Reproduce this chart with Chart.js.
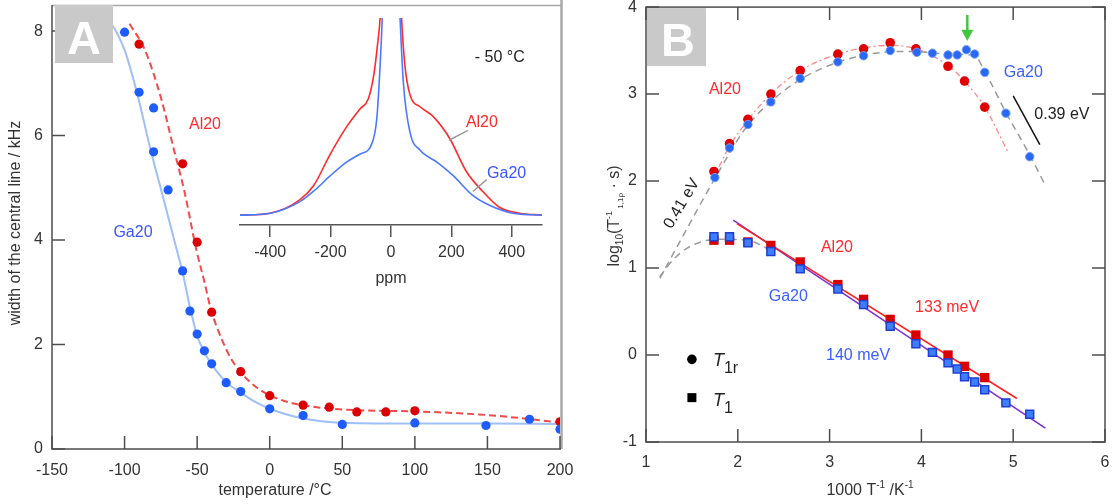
<!DOCTYPE html>
<html><head><meta charset="utf-8">
<script src="https://cdn.jsdelivr.net/npm/chart.js@4.4.0/dist/chart.umd.min.js"></script>
<style>
html,body{margin:0;padding:0;background:#fff;}
#wrap{position:relative;width:1113px;height:504px;overflow:hidden;background:#fff;}
canvas{position:absolute;}
#ca{left:0;top:0;}
#cb{left:562px;top:0;}
#ci{left:232px;top:10px;}
</style></head><body>
<div id="wrap">
<canvas id="ca" width="600" height="504"></canvas>
<canvas id="cb" width="551" height="504"></canvas>
<canvas id="ci" width="320" height="280"></canvas>
</div>
<script>
// ---------- Panel A data ----------
const A_X_TICKS = [-150, -100, -50, 0, 50, 100, 150, 200];
const A_Y_TICKS = [0, 2, 4, 6, 8];
const A_GA_T = [-100, -90, -80, -80, -70, -60, -55, -50, -45, -40, -30, -20, 0, 23, 50, 100, 149, 179, 200];
const A_GA_W = [7.98, 6.83, 6.53, 5.69, 4.96, 3.41, 2.64, 2.20, 1.88, 1.63, 1.27, 1.10, 0.77, 0.64, 0.47, 0.50, 0.45, 0.57, 0.38];
const A_AL_T = [-90, -60, -50, -40, -20, 0, 23, 41, 60, 80, 100, 200];
const A_AL_W = [7.75, 5.46, 3.96, 2.62, 1.48, 1.02, 0.84, 0.80, 0.71, 0.71, 0.73, 0.52];
const A_GA_FIT_T = [-111, -105, -100, -92, -82, -75, -64, -60, -55, -50, -45, -40, -30, -20, -10, 0, 22, 54, 100, 150, 200];
const A_GA_FIT_W = [8.23, 7.95, 7.64, 6.88, 5.72, 4.98, 3.81, 3.38, 2.72, 2.17, 1.85, 1.62, 1.28, 1.08, 0.90, 0.77, 0.59, 0.50, 0.49, 0.49, 0.48];
const A_AL_FIT_T = [-96.6, -86, -74.6, -66, -59, -50.5, -45, -40.4, -33, -26, -15, -3, 10, 22, 54, 100, 150, 200];
const A_AL_FIT_W = [8.14, 7.64, 6.69, 5.73, 4.96, 3.81, 3.20, 2.66, 2.10, 1.70, 1.32, 1.07, 0.92, 0.84, 0.75, 0.72, 0.65, 0.51];

// ---------- Inset data ----------
const INSET_X_TICKS = [-400, -200, 0, 200, 400];
const IN_AL_L_PPM = [-500, -400, -300, -256, -201, -146, -102, -75, -56, -45, -36, -30];
const IN_AL_L_I = [0, 0.01, 0.08, 0.15, 0.31, 0.45, 0.54, 0.59, 0.72, 0.86, 1.0, 1.2];
const IN_AL_R_PPM = [30, 35, 46, 63, 96, 140, 194, 250, 304, 359, 425, 500];
const IN_AL_R_I = [1.2, 1.0, 0.76, 0.61, 0.55, 0.50, 0.39, 0.22, 0.12, 0.04, 0.01, 0];
const IN_GA_L_PPM = [-500, -400, -300, -250, -201, -146, -102, -64, -47, -36, -29, -25];
const IN_GA_L_I = [0, 0.01, 0.07, 0.13, 0.20, 0.27, 0.31, 0.36, 0.49, 0.76, 1.0, 1.2];
const IN_GA_R_PPM = [25, 30, 41, 63, 96, 151, 206, 271, 326, 403, 500];
const IN_GA_R_I = [1.2, 1.0, 0.67, 0.42, 0.33, 0.27, 0.20, 0.10, 0.05, 0.01, 0];

// ---------- Panel B data ----------
const B_X_TICKS = [1, 2, 3, 4, 5, 6];
const B_Y_TICKS = [-1, 0, 1, 2, 3, 4];
const B_AL_T1R_X = [1.74, 1.91, 2.11, 2.36, 2.68, 3.09, 3.37, 3.66, 3.94, 4.29, 4.47, 4.69];
const B_AL_T1R_Y = [2.11, 2.43, 2.71, 3.00, 3.27, 3.46, 3.52, 3.59, 3.52, 3.32, 3.15, 2.85];
const B_GA_T1R_X = [1.75, 1.91, 2.11, 2.36, 2.68, 3.09, 3.37, 3.66, 3.95, 4.12, 4.29, 4.39, 4.49, 4.58, 4.69, 4.92, 5.18];
const B_GA_T1R_Y = [2.04, 2.38, 2.65, 2.91, 3.18, 3.37, 3.44, 3.50, 3.48, 3.47, 3.45, 3.45, 3.51, 3.46, 3.25, 2.78, 2.28];
const B_AL_T1_X = [1.74, 1.91, 2.11, 2.36, 2.68, 3.09, 3.37, 3.66, 3.94, 4.29, 4.47, 4.69];
const B_AL_T1_Y = [1.32, 1.32, 1.30, 1.26, 1.07, 0.81, 0.64, 0.41, 0.23, 0.00, -0.13, -0.26];
const B_GA_T1_X = [1.74, 1.91, 2.11, 2.36, 2.68, 3.09, 3.37, 3.66, 3.94, 4.12, 4.29, 4.39, 4.47, 4.58, 4.69, 4.92, 5.18];
const B_GA_T1_Y = [1.36, 1.36, 1.29, 1.19, 0.99, 0.76, 0.58, 0.33, 0.13, 0.03, -0.09, -0.16, -0.25, -0.31, -0.40, -0.55, -0.68];
const B_AL_LINE_X = [1.99, 5.04];
const B_AL_LINE_Y = [1.51, -0.50];
const B_GA_LINE_X = [1.95, 5.35];
const B_GA_LINE_Y = [1.55, -0.84];
const B_GA_FIT_X = [1.15, 1.45, 1.75, 2.10, 2.40, 2.70, 3.10, 3.50, 3.90, 4.30, 4.58, 4.69, 4.92, 5.18, 5.35];
const B_GA_FIT_Y = [0.88, 1.46, 2.03, 2.63, 2.95, 3.18, 3.37, 3.47, 3.49, 3.46, 3.44, 3.26, 2.79, 2.30, 1.95];
const B_AL_FIT_X = [1.73, 1.91, 2.11, 2.36, 2.68, 3.09, 3.37, 3.66, 3.94, 4.29, 4.47, 4.69, 4.94];
const B_AL_FIT_Y = [2.02, 2.40, 2.70, 3.00, 3.27, 3.46, 3.53, 3.56, 3.52, 3.33, 3.15, 2.85, 2.34];
const B_T1_FIT_X = [1.15, 1.30, 1.45, 1.60, 1.75, 2.10, 2.37];
const B_T1_FIT_Y = [0.90, 1.10, 1.23, 1.30, 1.33, 1.32, 1.20];

const FONT = '"Liberation Sans", Arial, Helvetica, sans-serif';
Chart.defaults.font.family = FONT;
Chart.defaults.color = '#333';

function zip(xs, ys) { return xs.map((x, i) => ({ x: x, y: ys[i] })); }
function fixedTicks(arr) { return function (scale) { scale.ticks = arr.map(v => ({ value: v })); }; }
function fitBox(w, h) {
  return function (s) {
    if (w !== null) s.width = w;
    if (h !== null) s.height = h;
    s.paddingTop = 0; s.paddingBottom = 0; s.paddingLeft = 0; s.paddingRight = 0;
  };
}

function drawRich(ctx, parts, x, y, align) {
  let w = 0;
  parts.forEach(p => { ctx.font = (p[3] || '') + ' ' + p[1] + 'px ' + FONT; w += ctx.measureText(p[0]).width; });
  let cx = align === 'center' ? x - w / 2 : x;
  ctx.textAlign = 'left';
  parts.forEach(p => { ctx.font = (p[3] || '') + ' ' + p[1] + 'px ' + FONT; ctx.fillText(p[0], cx, y + p[2]); cx += ctx.measureText(p[0]).width; });
}

// ---------- Panel A ----------
const plugA = {
  id: 'plugA',
  afterDraw(chart) {
    const { ctx, chartArea: ca, scales: { x, y } } = chart;
    ctx.save();
    ctx.strokeStyle = '#a9a9a9';
    ctx.lineWidth = 1.5;
    ctx.beginPath(); ctx.moveTo(ca.left, ca.top + 0.5); ctx.lineTo(ca.right + 1, ca.top + 0.5); ctx.stroke();
    ctx.lineWidth = 2.5;
    ctx.beginPath(); ctx.moveTo(ca.right + 1.5, 0); ctx.lineTo(ca.right + 1.5, ca.bottom); ctx.stroke();
    ctx.strokeStyle = '#4d4d4d';
    ctx.lineWidth = 1.5;
    ctx.beginPath(); ctx.moveTo(ca.left, ca.top); ctx.lineTo(ca.left, ca.bottom); ctx.lineTo(ca.right + 1, ca.bottom); ctx.stroke();
    ctx.beginPath();
    A_Y_TICKS.forEach(v => { const p = y.getPixelForValue(v); ctx.moveTo(ca.left, p); ctx.lineTo(ca.left + 13, p); });
    A_X_TICKS.forEach(v => { const p = x.getPixelForValue(v); ctx.moveTo(p, ca.bottom); ctx.lineTo(p, ca.bottom - 13); });
    ctx.stroke();
    ctx.fillStyle = '#c9c9c9';
    ctx.fillRect(ca.left + 3, ca.top, 58, 58);
    ctx.fillStyle = '#ffffff';
    ctx.font = 'bold 47px ' + FONT;
    ctx.textAlign = 'center'; ctx.textBaseline = 'alphabetic';
    ctx.fillText('A', ca.left + 32, ca.top + 49);
    ctx.font = '16px ' + FONT;
    ctx.textBaseline = 'middle';
    ctx.fillStyle = '#ff2a2a';
    ctx.fillText('Al20', x.getPixelForValue(-44.6), y.getPixelForValue(6.22));
    ctx.fillStyle = '#3a55ff';
    ctx.fillText('Ga20', x.getPixelForValue(-94.2), y.getPixelForValue(4.15));
    ctx.fillStyle = '#333';
    ctx.font = '16px ' + FONT;
    ctx.textAlign = 'center'; ctx.textBaseline = 'alphabetic';
    ctx.fillText('temperature /°C', 275, 495);
    ctx.save();
    ctx.translate(16, 223);
    ctx.rotate(-Math.PI / 2);
    ctx.textBaseline = 'middle';
    ctx.fillText('width of the central line / kHz', 0, 0);
    ctx.restore();
    ctx.restore();
  }
};

new Chart(document.getElementById('ca'), {
  type: 'scatter',
  data: {
    datasets: [
      { data: zip(A_GA_T, A_GA_W), backgroundColor: '#1f5cff', borderWidth: 0, pointRadius: 4.6 },
      { data: zip(A_AL_T, A_AL_W), backgroundColor: '#dd0000', borderWidth: 0, pointRadius: 4.6 },
      { data: zip(A_GA_FIT_T, A_GA_FIT_W), showLine: true, pointRadius: 0, borderColor: '#9fbff7', borderWidth: 2, cubicInterpolationMode: 'monotone' },
      { data: zip(A_AL_FIT_T, A_AL_FIT_W), showLine: true, pointRadius: 0, borderColor: '#f04a4a', borderWidth: 2, borderDash: [7, 4], cubicInterpolationMode: 'monotone' }
    ]
  },
  options: {
    responsive: false, animation: false,
    layout: { padding: { left: 0, top: 5, right: 40, bottom: 0 } },
    plugins: { legend: { display: false }, tooltip: { enabled: false } },
    scales: {
      x: {
        type: 'linear', min: -150, max: 200,
        afterBuildTicks: fixedTicks(A_X_TICKS),
        afterFit: fitBox(null, 55),
        grid: { display: false, drawTicks: false }, border: { display: false },
        ticks: { font: { size: 16 }, color: '#333', padding: 12, maxRotation: 0 }
      },
      y: {
        type: 'linear', min: 0, max: 8.5,
        afterBuildTicks: fixedTicks(A_Y_TICKS),
        afterFit: fitBox(52, null),
        grid: { display: false, drawTicks: false }, border: { display: false },
        ticks: { font: { size: 16 }, color: '#333', padding: 9 }
      }
    }
  },
  plugins: [plugA]
});

// ---------- Inset ----------
const plugI = {
  id: 'plugI',
  afterDraw(chart) {
    const { ctx, scales: { x, y } } = chart;
    ctx.save();
    ctx.font = '16px ' + FONT;
    ctx.textBaseline = 'middle';
    ctx.textAlign = 'center';
    ctx.fillStyle = '#222';
    ctx.fillText('- 50 °C', x.getPixelForValue(360), y.getPixelForValue(0.80));
    ctx.fillStyle = '#ff2a2a';
    ctx.fillText('Al20', x.getPixelForValue(301), y.getPixelForValue(0.47));
    ctx.fillStyle = '#3a55ff';
    ctx.fillText('Ga20', x.getPixelForValue(383), y.getPixelForValue(0.21));
    ctx.strokeStyle = '#9a9a9a'; ctx.lineWidth = 1.5;
    ctx.beginPath();
    ctx.moveTo(x.getPixelForValue(255), y.getPixelForValue(0.43)); ctx.lineTo(x.getPixelForValue(192), y.getPixelForValue(0.38));
    ctx.moveTo(x.getPixelForValue(317), y.getPixelForValue(0.18)); ctx.lineTo(x.getPixelForValue(271), y.getPixelForValue(0.12));
    ctx.stroke();
    ctx.restore();
  }
};

const inLine = (xs, ys, c) => ({ data: zip(xs, ys), showLine: true, pointRadius: 0, borderColor: c, borderWidth: 1.6, cubicInterpolationMode: 'monotone' });
new Chart(document.getElementById('ci'), {
  type: 'scatter',
  data: {
    datasets: [
      inLine(IN_GA_L_PPM, IN_GA_L_I, '#4a78ff'),
      inLine(IN_GA_R_PPM, IN_GA_R_I, '#4a78ff'),
      inLine(IN_AL_L_PPM, IN_AL_L_I, '#ff2a2a'),
      inLine(IN_AL_R_PPM, IN_AL_R_I, '#ff2a2a')
    ]
  },
  options: {
    responsive: false, animation: false,
    layout: { padding: { left: 8, top: 8, right: 10, bottom: 0 } },
    plugins: { legend: { display: false }, tooltip: { enabled: false } },
    scales: {
      x: {
        type: 'linear', min: -500, max: 500,
        afterBuildTicks: fixedTicks(INSET_X_TICKS),
        afterFit: fitBox(null, 65),
        grid: { display: true, drawOnChartArea: false, drawTicks: true, tickLength: 12, color: '#555', lineWidth: 1.5 },
        border: { display: true, color: '#555', width: 1.5 },
        ticks: { font: { size: 16 }, color: '#333', padding: 6, maxRotation: 0 },
        title: { display: true, text: 'ppm', font: { size: 16 }, color: '#333', padding: { top: 0, bottom: 2 } }
      },
      y: { type: 'linear', min: -0.05, max: 1.0, display: false }
    }
  },
  plugins: [plugI]
});

// ---------- Panel B ----------
const plugB = {
  id: 'plugB',
  afterDraw(chart) {
    const { ctx, chartArea: ca, scales: { x, y } } = chart;
    const px = v => x.getPixelForValue(v), py = v => y.getPixelForValue(v);
    ctx.save();
    ctx.strokeStyle = '#4d4d4d'; ctx.lineWidth = 1.5;
    ctx.strokeRect(ca.left, ca.top, ca.right - ca.left, ca.bottom - ca.top);
    ctx.beginPath();
    B_X_TICKS.forEach(v => { const p = px(v); ctx.moveTo(p, ca.bottom); ctx.lineTo(p, ca.bottom - 13); ctx.moveTo(p, ca.top); ctx.lineTo(p, ca.top + 13); });
    B_Y_TICKS.forEach(v => { const p = py(v); ctx.moveTo(ca.left, p); ctx.lineTo(ca.left + 13, p); ctx.moveTo(ca.right, p); ctx.lineTo(ca.right - 13, p); });
    ctx.stroke();
    ctx.fillStyle = '#c9c9c9';
    ctx.fillRect(ca.left + 1, ca.top + 1, 59, 58);
    ctx.fillStyle = '#fff';
    ctx.font = 'bold 47px ' + FONT;
    ctx.textAlign = 'center'; ctx.textBaseline = 'alphabetic';
    ctx.fillText('B', ca.left + 32, ca.top + 49);
    ctx.font = '16px ' + FONT;
    ctx.textBaseline = 'middle';
    const lab = (t, xv, yv, c, al) => { ctx.fillStyle = c; ctx.textAlign = al || 'center'; ctx.fillText(t, px(xv), py(yv)); };
    lab('Al20', 1.86, 3.05, '#ff2a2a');
    lab('Ga20', 5.11, 3.25, '#3a60ff');
    lab('Al20', 3.08, 1.23, '#ff2a2a');
    lab('Ga20', 2.55, 0.67, '#3a60ff');
    lab('133 meV', 4.28, 0.55, '#ff2a2a');
    lab('140 meV', 3.31, -0.01, '#3a60ff');
    lab('0.39 eV', 5.23, 2.76, '#222', 'left');
    ctx.save();
    ctx.translate(px(1.39), py(1.74));
    ctx.rotate(-59 * Math.PI / 180);
    ctx.fillStyle = '#222'; ctx.textAlign = 'center';
    ctx.fillText('0.41 eV', 0, 0);
    ctx.restore();
    ctx.strokeStyle = '#111'; ctx.lineWidth = 1.5;
    ctx.beginPath(); ctx.moveTo(px(5.0), py(2.98)); ctx.lineTo(px(5.29), py(2.42)); ctx.stroke();
    const ax = px(4.5);
    ctx.strokeStyle = '#3fc83f'; ctx.fillStyle = '#3fc83f'; ctx.lineWidth = 2.5;
    ctx.beginPath(); ctx.moveTo(ax, py(3.91)); ctx.lineTo(ax, py(3.72)); ctx.stroke();
    ctx.beginPath(); ctx.moveTo(ax - 6, py(3.74)); ctx.lineTo(ax + 6, py(3.74)); ctx.lineTo(ax, py(3.61)); ctx.closePath(); ctx.fill();
    ctx.fillStyle = '#000';
    const c1x = px(1.5), c1y = py(-0.05), s1y = py(-0.49);
    ctx.beginPath(); ctx.arc(c1x, c1y, 4.8, 0, Math.PI * 2); ctx.fill();
    ctx.fillRect(c1x - 4.5, s1y - 4.5, 9, 9);
    ctx.fillStyle = '#222';
    ctx.textBaseline = 'alphabetic';
    drawRich(ctx, [['T', 18, 0, 'italic'], ['1r', 16, 7]], c1x + 21, c1y + 7, 'left');
    drawRich(ctx, [['T', 18, 0, 'italic'], ['1', 16, 7]], c1x + 21, s1y + 8, 'left');
    ctx.fillStyle = '#333';
    drawRich(ctx, [['1000 T', 16, 0], ['-1', 10, -7], [' /K', 16, 0], ['-1', 10, -7]], 870 - 562, 495, 'center');
    ctx.save();
    ctx.translate(613 - 562, 216);
    ctx.rotate(-Math.PI / 2);
    drawRich(ctx, [['log', 16, 0], ['10', 10, 4], ['(T', 16, 0], ['-1', 9, -7], [' 1,1ρ', 8, 4], [' · s)', 16, 0]], 0, 6, 'center');
    ctx.restore();
    ctx.restore();
  }
};

const bLine = (xs, ys, c, dash, w) => ({ data: zip(xs, ys), showLine: true, pointRadius: 0, borderColor: c, borderWidth: w || 1.5, borderDash: dash || [], cubicInterpolationMode: 'monotone' });
new Chart(document.getElementById('cb'), {
  type: 'scatter',
  data: {
    datasets: [
      { data: zip(B_GA_T1R_X, B_GA_T1R_Y), backgroundColor: '#2a68f2', borderColor: '#6f9cff', borderWidth: 1, pointRadius: 4.2 },
      { data: zip(B_GA_T1_X, B_GA_T1_Y), pointStyle: 'rect', backgroundColor: '#3f7dff', borderColor: '#1f3fcf', borderWidth: 1.5, pointRadius: 5.6 },
      { data: zip(B_AL_T1R_X, B_AL_T1R_Y), backgroundColor: '#e00000', borderWidth: 0, pointRadius: 4.8 },
      { data: zip(B_AL_T1_X, B_AL_T1_Y), pointStyle: 'rect', backgroundColor: '#d80000', borderWidth: 0, pointRadius: 6.6 },
      bLine(B_AL_LINE_X, B_AL_LINE_Y, '#ff2020', [], 1.6),
      bLine(B_GA_LINE_X, B_GA_LINE_Y, '#7a30d8', [], 1.6),
      bLine(B_GA_FIT_X, B_GA_FIT_Y, '#9a9a9a', [7, 5], 1.5),
      bLine(B_T1_FIT_X, B_T1_FIT_Y, '#9a9a9a', [7, 5], 1.5),
      bLine(B_AL_FIT_X, B_AL_FIT_Y, '#ff8a8a', [6, 3, 2, 3], 1.3)
    ]
  },
  options: {
    responsive: false, animation: false,
    layout: { padding: { left: 0, top: 4, right: 8, bottom: 0 } },
    plugins: { legend: { display: false }, tooltip: { enabled: false } },
    scales: {
      x: {
        type: 'linear', min: 1, max: 6,
        afterBuildTicks: fixedTicks(B_X_TICKS),
        afterFit: fitBox(null, 62),
        grid: { display: false, drawTicks: false }, border: { display: false },
        ticks: { font: { size: 16 }, color: '#333', padding: 11, maxRotation: 0 }
      },
      y: {
        type: 'linear', min: -1, max: 4,
        afterBuildTicks: fixedTicks(B_Y_TICKS),
        afterFit: fitBox(84, null),
        grid: { display: false, drawTicks: false }, border: { display: false },
        ticks: { font: { size: 16 }, color: '#333', padding: 9 }
      }
    }
  },
  plugins: [plugB]
});
</script>
</body></html>
